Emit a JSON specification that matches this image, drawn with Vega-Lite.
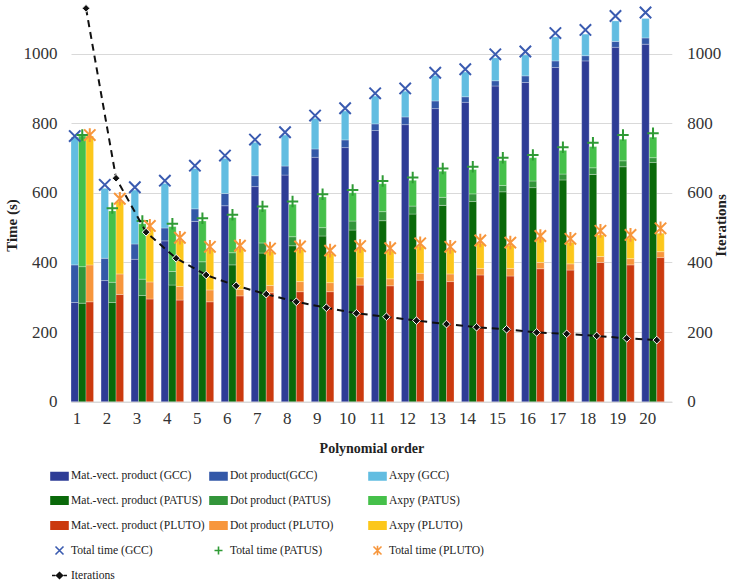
{
  "$schema": "https://vega.github.io/schema/vega-lite/v6.json",
  "width": 600.8,
  "height": 401.7,
  "autosize": {"type": "none"},
  "padding": {"left": 71, "top": 0, "right": 64.2, "bottom": 183.3},
  "background": "white",
  "config": {
    "view": {"stroke": null},
    "font": "Liberation Serif, Times New Roman, serif",
    "style": {"guide-label": {"font": "Liberation Serif, Times New Roman, serif"}, "guide-title": {"font": "Liberation Serif, Times New Roman, serif"}},
    "axis": {"labelFont": "Liberation Serif, Times New Roman, serif", "titleFont": "Liberation Serif, Times New Roman, serif", "labelColor": "#333333", "titleColor": "#222222"},
    "legend": {
      "orient": "none", "legendX": -21, "legendY": 466, "columns": 3, "direction": "horizontal", "gridAlign": "all",
      "columnPadding": 1, "rowPadding": 7, "title": null,
      "symbolSize": 289, "labelFont": "Liberation Serif, Times New Roman, serif", "labelFontSize": 11.6, "labelColor": "#222222", "labelOffset": 2
    }
  },
  "datasets": {
    "meta": [
      {"k": "mv|GCC", "series": "Mat.-vect. product (GCC)"},
      {"k": "dot|GCC", "series": "Dot product(GCC)"},
      {"k": "axpy|GCC", "series": "Axpy (GCC)"},
      {"k": "mv|PATUS", "series": "Mat.-vect. product (PATUS)"},
      {"k": "dot|PATUS", "series": "Dot product (PATUS)"},
      {"k": "axpy|PATUS", "series": "Axpy (PATUS)"},
      {"k": "mv|PLUTO", "series": "Mat.-vect. product (PLUTO)"},
      {"k": "dot|PLUTO", "series": "Dot product (PLUTO)"},
      {"k": "axpy|PLUTO", "series": "Axpy (PLUTO)"},
      {"k": "total|GCC", "series": "Total time (GCC)"},
      {"k": "total|PATUS", "series": "Total time (PATUS)"},
      {"k": "total|PLUTO", "series": "Total time (PLUTO)"}
    ],
    "times": [
      {"order": 1, "compiler": "GCC", "mv": 285, "dot": 108, "axpy": 367, "total": 763},
      {"order": 1, "compiler": "PATUS", "mv": 283, "dot": 105, "axpy": 375, "total": 766},
      {"order": 1, "compiler": "PLUTO", "mv": 287, "dot": 106, "axpy": 370, "total": 766},
      {"order": 2, "compiler": "GCC", "mv": 348, "dot": 64, "axpy": 201, "total": 623},
      {"order": 2, "compiler": "PATUS", "mv": 285, "dot": 58, "axpy": 205, "total": 556},
      {"order": 2, "compiler": "PLUTO", "mv": 308, "dot": 59, "axpy": 208, "total": 583},
      {"order": 3, "compiler": "GCC", "mv": 409, "dot": 44, "axpy": 155, "total": 616},
      {"order": 3, "compiler": "PATUS", "mv": 305, "dot": 47, "axpy": 159, "total": 519},
      {"order": 3, "compiler": "PLUTO", "mv": 295, "dot": 49, "axpy": 153, "total": 505},
      {"order": 4, "compiler": "GCC", "mv": 462, "dot": 37, "axpy": 128, "total": 635},
      {"order": 4, "compiler": "PATUS", "mv": 335, "dot": 39, "axpy": 129, "total": 511},
      {"order": 4, "compiler": "PLUTO", "mv": 292, "dot": 39, "axpy": 132, "total": 471},
      {"order": 5, "compiler": "GCC", "mv": 518, "dot": 36, "axpy": 116, "total": 678},
      {"order": 5, "compiler": "PATUS", "mv": 367, "dot": 35, "axpy": 117, "total": 527},
      {"order": 5, "compiler": "PLUTO", "mv": 287, "dot": 34, "axpy": 116, "total": 445},
      {"order": 6, "compiler": "GCC", "mv": 563, "dot": 35, "axpy": 101, "total": 707},
      {"order": 6, "compiler": "PATUS", "mv": 393, "dot": 35, "axpy": 101, "total": 537},
      {"order": 6, "compiler": "PLUTO", "mv": 304, "dot": 19, "axpy": 117, "total": 448},
      {"order": 7, "compiler": "GCC", "mv": 618, "dot": 31, "axpy": 96, "total": 753},
      {"order": 7, "compiler": "PATUS", "mv": 427, "dot": 29, "axpy": 97, "total": 561},
      {"order": 7, "compiler": "PLUTO", "mv": 313, "dot": 21, "axpy": 98, "total": 440},
      {"order": 8, "compiler": "GCC", "mv": 651, "dot": 26, "axpy": 89, "total": 774},
      {"order": 8, "compiler": "PATUS", "mv": 448, "dot": 26, "axpy": 93, "total": 575},
      {"order": 8, "compiler": "PLUTO", "mv": 316, "dot": 29, "axpy": 93, "total": 446},
      {"order": 9, "compiler": "GCC", "mv": 702, "dot": 24, "axpy": 88, "total": 822},
      {"order": 9, "compiler": "PATUS", "mv": 476, "dot": 24, "axpy": 88, "total": 596},
      {"order": 9, "compiler": "PLUTO", "mv": 316, "dot": 26, "axpy": 84, "total": 434},
      {"order": 10, "compiler": "GCC", "mv": 730, "dot": 22, "axpy": 83, "total": 843},
      {"order": 10, "compiler": "PATUS", "mv": 493, "dot": 26, "axpy": 81, "total": 608},
      {"order": 10, "compiler": "PLUTO", "mv": 335, "dot": 21, "axpy": 83, "total": 447},
      {"order": 11, "compiler": "GCC", "mv": 779, "dot": 19, "axpy": 80, "total": 886},
      {"order": 11, "compiler": "PATUS", "mv": 520, "dot": 26, "axpy": 80, "total": 634},
      {"order": 11, "compiler": "PLUTO", "mv": 333, "dot": 20, "axpy": 80, "total": 441},
      {"order": 12, "compiler": "GCC", "mv": 796, "dot": 22, "axpy": 74, "total": 900},
      {"order": 12, "compiler": "PATUS", "mv": 539, "dot": 23, "axpy": 74, "total": 644},
      {"order": 12, "compiler": "PLUTO", "mv": 349, "dot": 20, "axpy": 78, "total": 455},
      {"order": 13, "compiler": "GCC", "mv": 842, "dot": 22, "axpy": 73, "total": 945},
      {"order": 13, "compiler": "PATUS", "mv": 564, "dot": 23, "axpy": 75, "total": 670},
      {"order": 13, "compiler": "PLUTO", "mv": 345, "dot": 22, "axpy": 70, "total": 445},
      {"order": 14, "compiler": "GCC", "mv": 860, "dot": 16, "axpy": 71, "total": 955},
      {"order": 14, "compiler": "PATUS", "mv": 575, "dot": 22, "axpy": 70, "total": 675},
      {"order": 14, "compiler": "PLUTO", "mv": 364, "dot": 19, "axpy": 72, "total": 463},
      {"order": 15, "compiler": "GCC", "mv": 907, "dot": 15, "axpy": 66, "total": 998},
      {"order": 15, "compiler": "PATUS", "mv": 603, "dot": 18, "axpy": 72, "total": 701},
      {"order": 15, "compiler": "PLUTO", "mv": 361, "dot": 22, "axpy": 66, "total": 457},
      {"order": 16, "compiler": "GCC", "mv": 917, "dot": 19, "axpy": 60, "total": 1006},
      {"order": 16, "compiler": "PATUS", "mv": 615, "dot": 19, "axpy": 67, "total": 709},
      {"order": 16, "compiler": "PLUTO", "mv": 382, "dot": 18, "axpy": 68, "total": 476},
      {"order": 17, "compiler": "GCC", "mv": 960, "dot": 19, "axpy": 69, "total": 1059},
      {"order": 17, "compiler": "PATUS", "mv": 637, "dot": 17, "axpy": 68, "total": 731},
      {"order": 17, "compiler": "PLUTO", "mv": 378, "dot": 18, "axpy": 62, "total": 468},
      {"order": 18, "compiler": "GCC", "mv": 979, "dot": 15, "axpy": 62, "total": 1068},
      {"order": 18, "compiler": "PATUS", "mv": 653, "dot": 19, "axpy": 61, "total": 744},
      {"order": 18, "compiler": "PLUTO", "mv": 400, "dot": 17, "axpy": 62, "total": 491},
      {"order": 19, "compiler": "GCC", "mv": 1018, "dot": 17, "axpy": 59, "total": 1108},
      {"order": 19, "compiler": "PATUS", "mv": 675, "dot": 17, "axpy": 62, "total": 766},
      {"order": 19, "compiler": "PLUTO", "mv": 393, "dot": 18, "axpy": 59, "total": 479},
      {"order": 20, "compiler": "GCC", "mv": 1027, "dot": 18, "axpy": 56, "total": 1118},
      {"order": 20, "compiler": "PATUS", "mv": 687, "dot": 14, "axpy": 59, "total": 771},
      {"order": 20, "compiler": "PLUTO", "mv": 414, "dot": 17, "axpy": 53, "total": 498}
    ],
    "iter": [
      {"order": 1, "iterations": 1130}, {"order": 2, "iterations": 642}, {"order": 3, "iterations": 487},
      {"order": 4, "iterations": 412}, {"order": 5, "iterations": 364}, {"order": 6, "iterations": 333},
      {"order": 7, "iterations": 309}, {"order": 8, "iterations": 287}, {"order": 9, "iterations": 270},
      {"order": 10, "iterations": 254}, {"order": 11, "iterations": 244}, {"order": 12, "iterations": 233},
      {"order": 13, "iterations": 223}, {"order": 14, "iterations": 214}, {"order": 15, "iterations": 208},
      {"order": 16, "iterations": 199}, {"order": 17, "iterations": 195}, {"order": 18, "iterations": 189},
      {"order": 19, "iterations": 182}, {"order": 20, "iterations": 177}
    ]
  },
  "layer": [
    {
      "layer": [
        {
          "data": {"name": "times"},
          "transform": [
            {"fold": ["mv", "dot", "axpy"], "as": ["part", "value"]},
            {"calculate": "datum.part + '|' + datum.compiler", "as": "k"},
            {"lookup": "k", "from": {"data": {"name": "meta"}, "key": "k", "fields": ["series"]}}
          ],
          "mark": {"type": "bar", "stroke": "#ffffff", "strokeWidth": 0.6, "strokeOpacity": 0.45},
          "encoding": {
            "x": {
              "field": "order", "type": "ordinal",
              "scale": {"paddingInner": 0, "paddingOuter": 0},
              "axis": {
                "labelAngle": 0, "labelFontSize": 17, "labelPadding": 9, "labelOffset": -9,
                "domain": true, "domainColor": "#d9d9d9", "domainWidth": 1.5, "ticks": false, "grid": false,
                "title": "Polynomial order", "titleFontSize": 14, "titleFontWeight": "bold", "titlePadding": 15
              }
            },
            "xOffset": {
              "field": "compiler", "type": "nominal",
              "scale": {"domain": ["GCC", "PATUS", "PLUTO", "gap"], "paddingInner": 0, "paddingOuter": 0}
            },
            "y": {
              "field": "value", "type": "quantitative", "stack": "zero",
              "scale": {"domain": [0, 1154], "nice": false},
              "axis": {
                "values": [0, 200, 400, 600, 800, 1000], "format": "d", "grid": true, "gridColor": "#d9d9d9", "gridWidth": 1.2,
                "domain": false, "ticks": false, "labelFontSize": 17, "labelPadding": 14,
                "title": "Time (s)", "titleFontSize": 15, "titleFontWeight": "bold", "titlePadding": 4, "titleY": 225
              }
            },
            "order": {"field": "part", "sort": "descending"},
            "color": {
              "field": "series", "type": "nominal",
              "scale": {
                "domain": [
                  "Mat.-vect. product (GCC)", "Dot product(GCC)", "Axpy (GCC)",
                  "Mat.-vect. product (PATUS)", "Dot product (PATUS)", "Axpy (PATUS)",
                  "Mat.-vect. product (PLUTO)", "Dot product (PLUTO)", "Axpy (PLUTO)",
                  "Total time (GCC)", "Total time (PATUS)", "Total time (PLUTO)", "Iterations"
                ],
                "range": [
                  "#2E3C96", "#3358A8", "#62BDE1",
                  "#0A690A", "#33953A", "#45C04A",
                  "#CB3A0E", "#F7963C", "#FCC71B",
                  "#3A5BB0", "#2F9B35", "#F7963C", "#111111"
                ]
              },
              "legend": {
                "orient": "none", "legendX": -21, "legendY": 466, "columns": 3, "direction": "horizontal", "gridAlign": "all", "columnPadding": 1,
                "encode": {
                  "symbols": {
                    "update": {
                      "shape": {"signal": "datum.value === 'Total time (GCC)' ? 'M-1,-1L1,1M-1,1L1,-1' : datum.value === 'Total time (PATUS)' ? 'M-1,0H1M0,-1V1' : datum.value === 'Total time (PLUTO)' ? 'M-1,-1L1,1M-1,1L1,-1M0,-1.2V1.2' : datum.value === 'Iterations' ? 'M-2,0H-1.1M1.1,0H2M0,-0.8L0.8,0L0,0.8L-0.8,0Z' : 'M-1,-0.43H1V0.43H-1Z'"},
                      "size": {"signal": "indexof(['Total time (GCC)','Total time (PATUS)','Total time (PLUTO)'], datum.value) >= 0 ? 64 : datum.value === 'Iterations' ? 56 : 289"},
                      "fill": {"signal": "indexof(['Total time (GCC)','Total time (PATUS)','Total time (PLUTO)'], datum.value) >= 0 ? 'transparent' : scale('color', datum.value)"},
                      "stroke": {"signal": "indexof(['Total time (GCC)','Total time (PATUS)','Total time (PLUTO)','Iterations'], datum.value) >= 0 ? scale('color', datum.value) : 'transparent'"},
                      "strokeWidth": {"value": 1.6},
                      "opacity": {"value": 1}
                    }
                  }
                }
              }
            }
          }
        },
        {
          "data": {"name": "times"},
          "transform": [
            {"calculate": "'total|' + datum.compiler", "as": "k"},
            {"lookup": "k", "from": {"data": {"name": "meta"}, "key": "k", "fields": ["series"]}}
          ],
          "mark": {"type": "point", "filled": false, "strokeWidth": 2, "size": 130, "opacity": 1},
          "encoding": {
            "x": {"field": "order", "type": "ordinal"},
            "xOffset": {"field": "compiler", "type": "nominal"},
            "y": {"field": "total", "type": "quantitative", "scale": {"domain": [0, 1154], "nice": false}},
            "color": {
              "field": "series", "type": "nominal",
              "legend": {
                "orient": "none", "legendX": -21, "legendY": 466, "columns": 3, "direction": "horizontal", "gridAlign": "all", "columnPadding": 1,
                "encode": {
                  "symbols": {
                    "update": {
                      "shape": {"signal": "datum.value === 'Total time (GCC)' ? 'M-1,-1L1,1M-1,1L1,-1' : datum.value === 'Total time (PATUS)' ? 'M-1,0H1M0,-1V1' : datum.value === 'Total time (PLUTO)' ? 'M-1,-1L1,1M-1,1L1,-1M0,-1.2V1.2' : datum.value === 'Iterations' ? 'M-2,0H-1.1M1.1,0H2M0,-0.8L0.8,0L0,0.8L-0.8,0Z' : 'M-1,-0.43H1V0.43H-1Z'"},
                      "size": {"signal": "indexof(['Total time (GCC)','Total time (PATUS)','Total time (PLUTO)'], datum.value) >= 0 ? 64 : datum.value === 'Iterations' ? 56 : 289"},
                      "fill": {"signal": "indexof(['Total time (GCC)','Total time (PATUS)','Total time (PLUTO)'], datum.value) >= 0 ? 'transparent' : scale('color', datum.value)"},
                      "stroke": {"signal": "indexof(['Total time (GCC)','Total time (PATUS)','Total time (PLUTO)','Iterations'], datum.value) >= 0 ? scale('color', datum.value) : 'transparent'"},
                      "strokeWidth": {"value": 1.6},
                      "opacity": {"value": 1}
                    }
                  }
                }
              }
            },
            "shape": {
              "field": "series", "type": "nominal",
              "scale": {
                "domain": ["Total time (GCC)", "Total time (PATUS)", "Total time (PLUTO)"],
                "range": ["M-1,-1L1,1M-1,1L1,-1", "M-1,0H1M0,-1V1", "M-1,-1L1,1M-1,1L1,-1M0,-1.2V1.2"]
              },
              "legend": null
            }
          }
        }
      ]
    },
    {
      "data": {"name": "iter"},
      "mark": {
        "type": "line", "strokeDash": [7, 5], "strokeWidth": 2,
        "point": {"shape": "diamond", "size": 60, "filled": true, "stroke": "white", "strokeWidth": 1}
      },
      "encoding": {
        "x": {"field": "order", "type": "ordinal"},
        "y": {
          "field": "iterations", "type": "quantitative",
          "scale": {"domain": [0, 1154], "nice": false},
          "axis": {
            "orient": "right", "values": [0, 200, 400, 600, 800, 1000], "format": "d", "grid": false, "domain": false, "ticks": false,
            "labelFontSize": 17, "labelPadding": 15,
            "title": "Iterations", "titleFontSize": 15, "titleFontWeight": "bold", "titleAngle": 270, "titlePadding": 8, "titleY": 225
          }
        },
        "color": {
          "datum": "Iterations",
          "legend": {
            "orient": "none", "legendX": -21, "legendY": 466, "columns": 3, "direction": "horizontal", "gridAlign": "all", "columnPadding": 1,
            "encode": {
              "symbols": {
                "update": {
                  "shape": {"signal": "datum.value === 'Total time (GCC)' ? 'M-1,-1L1,1M-1,1L1,-1' : datum.value === 'Total time (PATUS)' ? 'M-1,0H1M0,-1V1' : datum.value === 'Total time (PLUTO)' ? 'M-1,-1L1,1M-1,1L1,-1M0,-1.2V1.2' : datum.value === 'Iterations' ? 'M-2,0H-1.1M1.1,0H2M0,-0.8L0.8,0L0,0.8L-0.8,0Z' : 'M-1,-0.43H1V0.43H-1Z'"},
                  "size": {"signal": "indexof(['Total time (GCC)','Total time (PATUS)','Total time (PLUTO)'], datum.value) >= 0 ? 64 : datum.value === 'Iterations' ? 56 : 289"},
                  "fill": {"signal": "indexof(['Total time (GCC)','Total time (PATUS)','Total time (PLUTO)'], datum.value) >= 0 ? 'transparent' : scale('color', datum.value)"},
                  "stroke": {"signal": "indexof(['Total time (GCC)','Total time (PATUS)','Total time (PLUTO)','Iterations'], datum.value) >= 0 ? scale('color', datum.value) : 'transparent'"},
                  "strokeWidth": {"value": 1.6},
                  "opacity": {"value": 1}
                }
              }
            }
          }
        }
      }
    }
  ],
  "resolve": {"scale": {"y": "independent"}}
}
